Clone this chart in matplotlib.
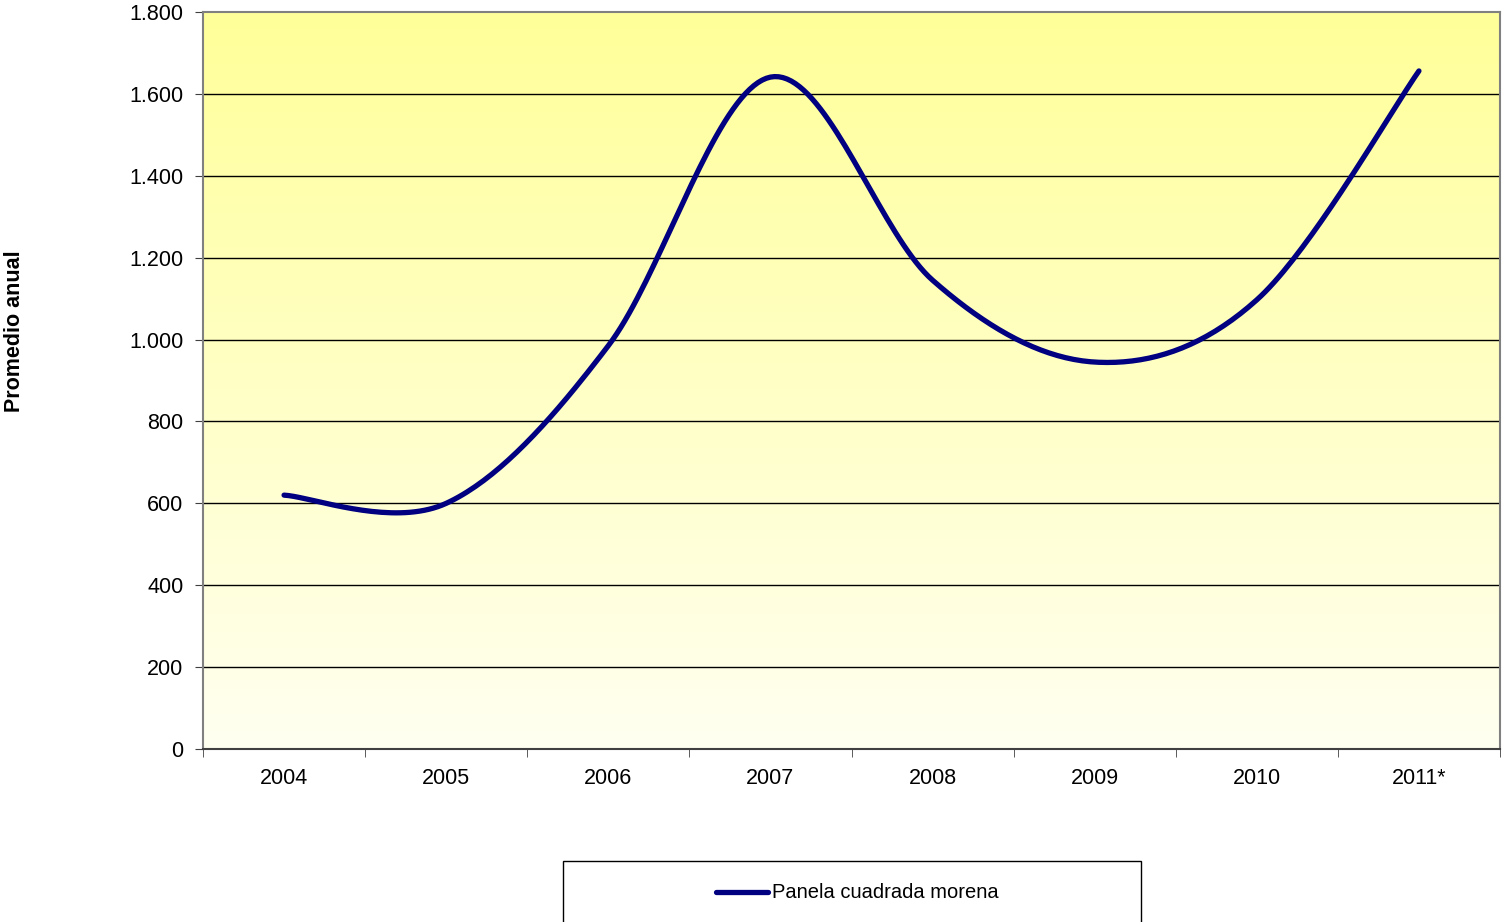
import matplotlib.pyplot as plt
from matplotlib.patches import Rectangle
from matplotlib.lines import Line2D
from matplotlib.ticker import FuncFormatter
import numpy as np

# Datos
years = ['2004', '2005', '2006', '2007', '2008', '2009', '2010', '2011*']
values = [620, 600, 985, 1641, 1145, 945, 1097, 1656]
series_name = 'Panela cuadrada morena'
y_label = 'Promedio anual'

plt.rcParams['font.family'] = ['Liberation Sans', 'DejaVu Sans']

W, H = 1503, 922
fig = plt.figure(figsize=(W / 100, H / 100), dpi=100)
ax = fig.add_axes([203 / W, 1 - 749 / H, (1500 - 203) / W, (749 - 12) / H])

n = len(years)
ax.set_xlim(-0.5, n - 0.5)
ax.set_ylim(0, 1800)

# Fondo degradado amarillo
grad = np.linspace(0, 1, 256).reshape(-1, 1)
c_top = np.array([1.0, 1.0, 0.6])
c_bot = np.array([1.0, 1.0, 0.945])
img = c_bot + (c_top - c_bot) * grad
ax.imshow(img[:, None, :].repeat(2, axis=1), extent=[-0.5, n - 0.5, 0, 1800],
          origin='lower', aspect='auto', zorder=0)

for v in range(200, 1800, 200):
    ax.axhline(v, color='black', lw=1, zorder=1)


def smooth_curve(xs, ys, sx, sy, steps=40):
    """Curva suavizada tipo Excel (Bezier / Catmull-Rom) en espacio de pixeles"""
    p = np.column_stack([np.array(xs) * sx, np.array(ys) * sy])
    out = []
    for i in range(len(p) - 1):
        p0 = p[i - 1] if i > 0 else p[i]
        p1, p2 = p[i], p[i + 1]
        p3 = p[i + 2] if i + 2 < len(p) else p[i + 1]
        c1 = p1 + (p2 - p0) / 6
        c2 = p2 - (p3 - p1) / 6
        t = np.linspace(0, 1, steps)[:, None]
        seg = ((1 - t) ** 3) * p1 + 3 * ((1 - t) ** 2) * t * c1 + 3 * (1 - t) * t ** 2 * c2 + t ** 3 * p2
        out.append(seg if i == 0 else seg[1:])
    out = np.vstack(out)
    return out[:, 0] / sx, out[:, 1] / sy


sx = (1500 - 203) / n
sy = (749 - 12) / 1800
xs, ys = smooth_curve(range(n), values, sx, sy)
ax.plot(xs, ys, color='#000080', lw=3.8, solid_capstyle='round', zorder=3)

# Ejes
ax.set_xticks(np.arange(n))
ax.set_xticklabels(years, fontsize=15.5)
ax.set_xticks(np.arange(n + 1) - 0.5, minor=True)
ax.tick_params(axis='x', which='major', length=0, pad=14)
ax.tick_params(axis='x', which='minor', length=6, color='#404040')
ax.set_yticks(range(0, 1801, 200))
ax.yaxis.set_major_formatter(FuncFormatter(lambda v, p: f'{int(v):,}'.replace(',', '.')))
ax.tick_params(axis='y', labelsize=15.5, length=6, color='#404040', pad=8)
for s in ['left', 'top', 'right']:
    ax.spines[s].set_color('#808080')
    ax.spines[s].set_linewidth(1.5)
ax.spines['bottom'].set_color('#404040')
ax.spines['bottom'].set_linewidth(1.5)

fig.text(15 / W, 1 - 331 / H, y_label, rotation=90, fontsize=15.5, fontweight='bold',
         ha='center', va='center')

# Leyenda
fig.patches.append(Rectangle((563 / W, 1 - 935 / H), (1141 - 563) / W, (935 - 861) / H,
                             transform=fig.transFigure, facecolor='white',
                             edgecolor='black', lw=1))
fig.lines.append(Line2D([716 / W, 768 / W], [1 - 892 / H, 1 - 892 / H], transform=fig.transFigure,
                        color='#000080', lw=3.8, solid_capstyle='round'))
fig.text(772 / W, 1 - 892 / H, series_name, fontsize=14.5, va='center', ha='left')

fig.savefig('out.png', dpi=100)
